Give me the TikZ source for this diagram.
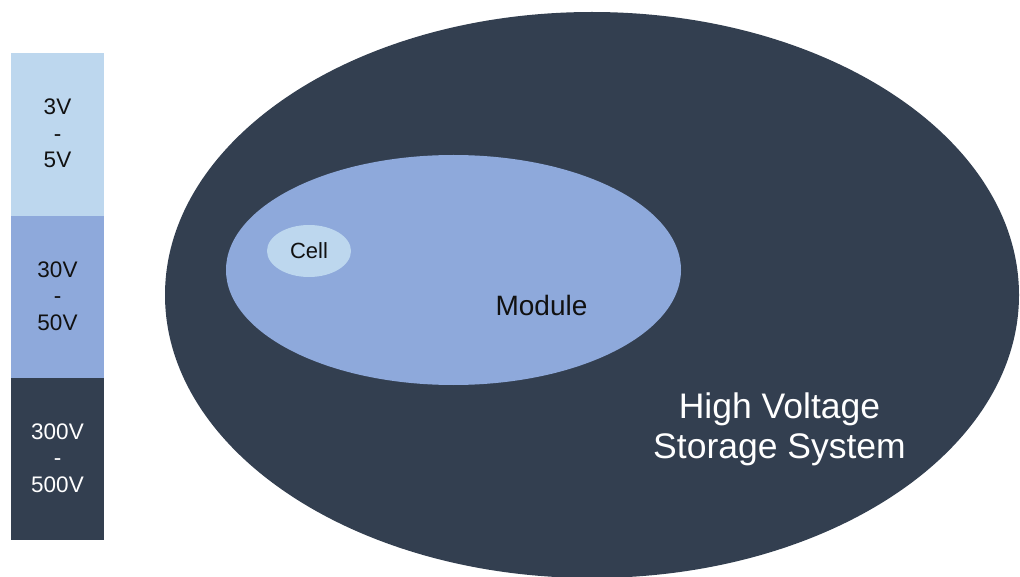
\documentclass[tikz,border=0pt]{standalone}
\usepackage{fontspec}
\setmainfont{Liberation Sans}
\usetikzlibrary{shapes.geometric}
\definecolor{lightblue}{HTML}{BDD7EE}
\definecolor{midblue}{HTML}{8EA9DB}
\definecolor{darkslate}{HTML}{333F50}
\definecolor{textdark}{HTML}{111111}
\tikzset{
  blob/.style={ellipse, inner sep=0pt, draw=none},
  bar/.style={rectangle, inner sep=0pt, draw=none, minimum width=93pt},
  barlabel/.style={align=center, font=\fontsize{22.5}{26.5}\selectfont},
  biglabel/.style={align=center, text=white, font=\fontsize{35.5}{40}\selectfont},
}
\begin{document}
\begin{tikzpicture}[x=1pt,y=-1pt]
\useasboundingbox (0,0) rectangle (1020,577);
\clip (0,0) rectangle (1020,577);
% left voltage bars
\node[bar, fill=lightblue, minimum height=163pt] (b1) at (57.5,134.5) {};
\node[bar, fill=midblue, minimum height=162pt] (b2) at (57.5,297) {};
\node[bar, fill=darkslate, minimum height=162pt] (b3) at (57.5,459) {};
\node[barlabel, text=textdark] (t1) at ([yshift=1pt]b1.center) {3V\\-\\5V};
\node[barlabel, text=textdark] (t2) at ([yshift=1pt]b2.center) {30V\\-\\50V};
\node[barlabel, text=white] (t3) at ([yshift=1pt]b3.center) {300V\\-\\500V};
% nested ellipses
\node[blob, fill=darkslate, minimum width=854pt, minimum height=566pt] (hv) at (592,295) {};
\node[blob, fill=midblue, minimum width=455pt, minimum height=230pt] (mod) at (453.5,270) {};
\node[blob, fill=lightblue, minimum width=84pt, minimum height=52pt] (cell) at (309,251) {};
\node[text=textdark, font=\fontsize{22}{26}\selectfont] (celltxt) at (cell.center) {Cell};
\node[text=textdark, font=\fontsize{28}{32}\selectfont] (modtxt) at (541.5,305) {Module};
\node[biglabel] (hvtxt) at (779.5,429) {High Voltage\\Storage System};
\end{tikzpicture}
\end{document}
